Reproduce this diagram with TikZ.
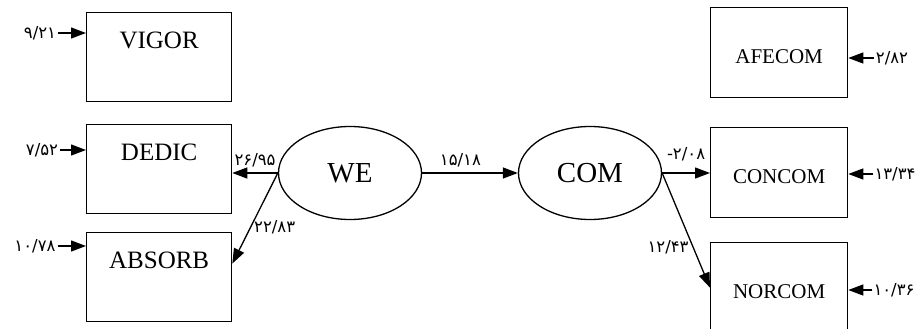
\documentclass[tikz,border=0pt]{standalone}
\usepackage{fontspec}
\setmainfont{Liberation Serif}
\newfontfamily\fanum{DejaVu Sans}
\usetikzlibrary{arrows.meta, positioning, calc, shapes.geometric}

\begin{document}
\begin{tikzpicture}[
    x=1pt, y=-1pt,
    every node/.style={inner sep=0pt},
    lbox/.style={draw, line width=1.3pt, text width=145pt, align=center, text height=36pt, text depth=53pt, font=\fontsize{25}{30}\selectfont},
    rbox/.style={draw, line width=1.3pt, text width=137pt, align=center, text height=56pt, text depth=34pt, font=\fontsize{21}{25}\selectfont},
    latent/.style={draw, ellipse, line width=1.3pt, minimum width=143pt, minimum height=93pt, font=\fontsize{29}{33}\selectfont},
    coef/.style={font=\fanum\fontsize{16.5}{19}\selectfont},
    arrow/.style={-{Triangle[length=15pt,width=11pt]}, line width=1.3pt}
  ]
  \useasboundingbox (0,0) rectangle (922,329);

  % Left: indicators of WE
  \node[lbox, anchor=north west] (vigor) at (86,12) {VIGOR};
  \node[lbox, anchor=north west] (dedic) at (86,124) {DEDIC};
  \node[lbox, anchor=north west] (absorb) at (86,232) {ABSORB};

  % Latent variables
  \node[latent] (we) at (350,173) {WE};
  \node[latent] (com) at (590,173) {COM};

  % Right: indicators of COM
  \node[rbox, anchor=north west] (afecom) at (710,7) {AFECOM};
  \node[rbox, anchor=north west] (concom) at (710,127) {CONCOM};
  \node[rbox, anchor=north west] (norcom) at (710,242) {NORCOM};

  % Error terms
  \node[coef] (evig) at (40,33) {۹/۲۱};
  \node[coef] (eded) at (42,150) {۷/۵۲};
  \node[coef] (eabs) at (35,246) {۱۰/۷۸};
  \node[coef] (eafe) at (892,58) {۲/۸۲};
  \node[coef] (econ) at (895,174) {۱۳/۳۴};
  \node[coef] (enor) at (894,290) {۱۰/۳۶};
  \draw[arrow, shorten <=2pt] (evig) -- (vigor.west |- evig);
  \draw[arrow, shorten <=2pt] (eded) -- (dedic.west |- eded);
  \draw[arrow, shorten <=2pt] (eabs) -- (absorb.west |- eabs);
  \draw[arrow, shorten <=2pt] (eafe) -- (afecom.east |- eafe);
  \draw[arrow, shorten <=1pt] (econ) -- (concom.east |- econ);
  \draw[arrow, shorten <=1pt] (enor) -- (norcom.east |- enor);

  % Paths
  \draw[arrow] (we.west) -- node[coef, above=5pt] (pded) {۲۶/۹۵} (dedic.east |- we.west);
  \draw[arrow] (we.west) -- node[coef, pos=0.6, right=3pt] (pabs) {۲۲/۸۳} ($(absorb.north east)!0.35!(absorb.south east)$);
  \draw[arrow] (we.east) -- node[coef, pos=0.4, above=5pt] (pcom) {۱۵/۱۸} (com.west);
  \draw[arrow] (com.east) -- node[coef, above=11pt] (pcon) {-۲/۰۸} (concom.west |- com.east);
  \draw[arrow] (com.east) -- node[coef, pos=0.65, left=4pt] (pnor) {۱۲/۴۳} (norcom.west);
\end{tikzpicture}
\end{document}
